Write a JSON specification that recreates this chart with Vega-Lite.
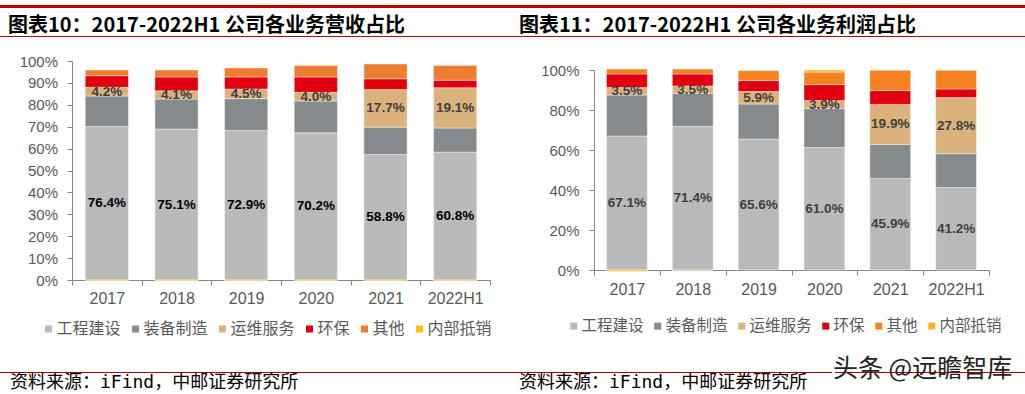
{
 "$schema": "https://vega.github.io/schema/vega-lite/v6.json",
 "padding": 0,
 "background": "white",
 "spacing": 0,
 "config": {"view": {"stroke": null}, "concat": {"spacing": 0}, "font": "Liberation Sans"},
 "datasets": {
  "rev": [
   {"year":"2017","seg":"工程建设","k":1,"v":70.1,"label":"76.4%"},
   {"year":"2017","seg":"装备制造","k":2,"v":13.9,"label":""},
   {"year":"2017","seg":"运维服务","k":3,"v":4.0,"label":"4.2%"},
   {"year":"2017","seg":"环保","k":4,"v":5.3,"label":""},
   {"year":"2017","seg":"其他","k":5,"v":2.6,"label":""},
   {"year":"2017","seg":"内部抵销","k":6,"v":-0.4,"label":""},
   {"year":"2018","seg":"工程建设","k":1,"v":68.9,"label":"75.1%"},
   {"year":"2018","seg":"装备制造","k":2,"v":13.7,"label":""},
   {"year":"2018","seg":"运维服务","k":3,"v":3.8,"label":"4.1%"},
   {"year":"2018","seg":"环保","k":4,"v":6.3,"label":""},
   {"year":"2018","seg":"其他","k":5,"v":3.2,"label":""},
   {"year":"2018","seg":"内部抵销","k":6,"v":-0.4,"label":""},
   {"year":"2019","seg":"工程建设","k":1,"v":68.3,"label":"72.9%"},
   {"year":"2019","seg":"装备制造","k":2,"v":14.5,"label":""},
   {"year":"2019","seg":"运维服务","k":3,"v":4.4,"label":"4.5%"},
   {"year":"2019","seg":"环保","k":4,"v":5.5,"label":""},
   {"year":"2019","seg":"其他","k":5,"v":4.1,"label":""},
   {"year":"2019","seg":"内部抵销","k":6,"v":-0.4,"label":""},
   {"year":"2020","seg":"工程建设","k":1,"v":67.2,"label":"70.2%"},
   {"year":"2020","seg":"装备制造","k":2,"v":14.5,"label":""},
   {"year":"2020","seg":"运维服务","k":3,"v":4.0,"label":"4.0%"},
   {"year":"2020","seg":"环保","k":4,"v":7.0,"label":""},
   {"year":"2020","seg":"其他","k":5,"v":5.2,"label":""},
   {"year":"2020","seg":"内部抵销","k":6,"v":-0.4,"label":""},
   {"year":"2021","seg":"工程建设","k":1,"v":57.3,"label":"58.8%"},
   {"year":"2021","seg":"装备制造","k":2,"v":12.5,"label":""},
   {"year":"2021","seg":"运维服务","k":3,"v":17.2,"label":"17.7%"},
   {"year":"2021","seg":"环保","k":4,"v":4.9,"label":""},
   {"year":"2021","seg":"其他","k":5,"v":6.7,"label":""},
   {"year":"2021","seg":"内部抵销","k":6,"v":-0.4,"label":""},
   {"year":"2022H1","seg":"工程建设","k":1,"v":58.4,"label":"60.8%"},
   {"year":"2022H1","seg":"装备制造","k":2,"v":11.0,"label":""},
   {"year":"2022H1","seg":"运维服务","k":3,"v":18.4,"label":"19.1%"},
   {"year":"2022H1","seg":"环保","k":4,"v":3.4,"label":""},
   {"year":"2022H1","seg":"其他","k":5,"v":6.8,"label":""},
   {"year":"2022H1","seg":"内部抵销","k":6,"v":-0.4,"label":""}
  ],
  "profit": [
   {"year":"2017","seg":"工程建设","k":1,"v":67.0,"label":"67.1%"},
   {"year":"2017","seg":"装备制造","k":2,"v":20.5,"label":""},
   {"year":"2017","seg":"运维服务","k":3,"v":3.7,"label":"3.5%"},
   {"year":"2017","seg":"环保","k":4,"v":6.8,"label":""},
   {"year":"2017","seg":"其他","k":5,"v":2.5,"label":""},
   {"year":"2017","seg":"内部抵销","k":6,"v":-0.7,"label":""},
   {"year":"2018","seg":"工程建设","k":1,"v":71.7,"label":"71.4%"},
   {"year":"2018","seg":"装备制造","k":2,"v":16.6,"label":""},
   {"year":"2018","seg":"运维服务","k":3,"v":3.7,"label":"3.5%"},
   {"year":"2018","seg":"环保","k":4,"v":6.0,"label":""},
   {"year":"2018","seg":"其他","k":5,"v":2.5,"label":""},
   {"year":"2018","seg":"内部抵销","k":6,"v":-0.3,"label":""},
   {"year":"2019","seg":"工程建设","k":1,"v":65.5,"label":"65.6%"},
   {"year":"2019","seg":"装备制造","k":2,"v":17.5,"label":""},
   {"year":"2019","seg":"运维服务","k":3,"v":6.2,"label":"5.9%"},
   {"year":"2019","seg":"环保","k":4,"v":5.5,"label":""},
   {"year":"2019","seg":"其他","k":5,"v":5.0,"label":""},
   {"year":"2019","seg":"内部抵销","k":6,"v":0.3,"label":""},
   {"year":"2020","seg":"工程建设","k":1,"v":61.2,"label":"61.0%"},
   {"year":"2020","seg":"装备制造","k":2,"v":19.5,"label":""},
   {"year":"2020","seg":"运维服务","k":3,"v":4.0,"label":"3.9%"},
   {"year":"2020","seg":"环保","k":4,"v":8.0,"label":""},
   {"year":"2020","seg":"其他","k":5,"v":6.3,"label":""},
   {"year":"2020","seg":"内部抵销","k":6,"v":1.0,"label":""},
   {"year":"2021","seg":"工程建设","k":1,"v":45.8,"label":"45.9%"},
   {"year":"2021","seg":"装备制造","k":2,"v":17.0,"label":""},
   {"year":"2021","seg":"运维服务","k":3,"v":20.0,"label":"19.9%"},
   {"year":"2021","seg":"环保","k":4,"v":6.9,"label":""},
   {"year":"2021","seg":"其他","k":5,"v":10.3,"label":""},
   {"year":"2021","seg":"内部抵销","k":6,"v":0.0,"label":""},
   {"year":"2022H1","seg":"工程建设","k":1,"v":41.2,"label":"41.2%"},
   {"year":"2022H1","seg":"装备制造","k":2,"v":17.0,"label":""},
   {"year":"2022H1","seg":"运维服务","k":3,"v":28.0,"label":"27.8%"},
   {"year":"2022H1","seg":"环保","k":4,"v":4.3,"label":""},
   {"year":"2022H1","seg":"其他","k":5,"v":9.5,"label":""},
   {"year":"2022H1","seg":"内部抵销","k":6,"v":0.0,"label":""}
  ]
 },
 "resolve": {"scale": {"color": "independent"}, "legend": {"color": "independent"}},
 "vconcat": [
  {"width": 1025, "height": 5, "data": {"values": []}, "mark": "point", "encoding": {}},
  {"width": 1025, "height": 3, "view": {"fill": "#c00000"}, "data": {"values": []}, "mark": "point", "encoding": {}},
  {"width": 1025, "height": 8, "data": {"values": []}, "mark": "point", "encoding": {}},
  {"spacing": 0, "hconcat": [
   {"width": 512, "height": 1, "view": {"fill": "#c00000"}, "data": {"values": []}, "mark": "point", "encoding": {},
    "title": {"text": "图表10：2017-2022H1 公司各业务营收占比", "anchor": "start", "dx": 8, "font": "Noto Sans CJK SC", "fontSize": 20, "fontWeight": "bold", "color": "#000000", "offset": 0}},
   {"width": 513, "height": 1, "view": {"fill": "#c00000"}, "data": {"values": []}, "mark": "point", "encoding": {},
    "title": {"text": "图表11：2017-2022H1 公司各业务利润占比", "anchor": "start", "dx": 7, "font": "Noto Sans CJK SC", "fontSize": 20, "fontWeight": "bold", "color": "#000000", "offset": 0}}
  ]},
  {"spacing": 0, "resolve": {"scale": {"color": "independent"}, "legend": {"color": "independent"}}, "hconcat": [
   {"width": 19, "height": 1, "data": {"values": []}, "mark": "point", "encoding": {}},
   {"spacing": 0, "resolve": {"scale": {"color": "independent"}, "legend": {"color": "independent"}}, "vconcat": [
    {"width": 1, "height": 16.5, "data": {"values": []}, "mark": "point", "encoding": {}},
    {"width": 418, "height": 219, "data": {"name": "rev"},
     "encoding": {
       "x": {"field": "year", "type": "nominal", "sort": null, "scale": {"paddingInner": 0, "paddingOuter": 0},
        "axis": {"title": null, "labelAngle": 0, "tickBand": "extent", "domainColor": "#868686", "tickColor": "#868686", "tickSize": 5, "labelFontSize": 16, "labelColor": "#595959", "labelPadding": 5, "labelFont": "Liberation Sans"}}},
     "layer": [
      {"mark": {"type": "bar", "width": {"band": 0.62}, "stroke": "white", "strokeWidth": 0.8, "strokeOpacity": 0.5},
       "encoding": {
        "y": {"field": "v", "type": "quantitative", "stack": "zero", "scale": {"domain": [0, 100], "nice": false},
          "axis": {"title": null, "values": [0,10,20,30,40,50,60,70,80,90,100], "labelOverlap": false, "labelExpr": "datum.value + '%'", "grid": false, "domainColor": "#868686", "tickColor": "#868686", "tickSize": 5, "labelPadding": 9.5, "labelFontSize": 15, "labelColor": "#595959", "labelFont": "Liberation Sans"}},
        "color": {"field": "seg", "type": "nominal", "scale": {"domain": ["工程建设","装备制造","运维服务","环保","其他","内部抵销"], "range": ["#BABABA","#878A8D","#DBB27B","#E1000F","#ED7D31","#FFC000"]},
          "legend": {"title": null, "orient": "none", "legendX": -31.5, "legendY": 260, "direction": "horizontal", "symbolType": "square", "symbolSize": 49, "symbolStrokeWidth": 0, "labelFont": "Noto Sans CJK SC", "labelFontSize": 16, "labelColor": "#595959", "labelOffset": 0, "columnPadding": 6, "padding": 0}},
        "order": {"field": "k", "type": "quantitative"}}},
      {"mark": {"type": "text", "font": "Liberation Sans", "fontWeight": "bold", "fontSize": 13.5, "baseline": "middle"},
       "encoding": {
        "y": {"field": "v", "type": "quantitative", "stack": "zero", "bandPosition": 0.5, "scale": {"domain": [0, 100], "nice": false},
          "axis": {"title": null, "values": [0,10,20,30,40,50,60,70,80,90,100], "labelOverlap": false, "labelExpr": "datum.value + '%'", "grid": false, "domainColor": "#868686", "tickColor": "#868686", "tickSize": 5, "labelPadding": 9.5, "labelFontSize": 15, "labelColor": "#595959", "labelFont": "Liberation Sans"}},
        "detail": {"field": "seg"},
        "order": {"field": "k", "type": "quantitative"},
        "text": {"field": "label"},
        "color": {"condition": {"test": "datum.seg === '工程建设'", "value": "#000000"}, "value": "#404040"}}}
     ]}
   ]},
   {"width": 47, "height": 1, "data": {"values": []}, "mark": "point", "encoding": {}},
   {"spacing": 0, "resolve": {"scale": {"color": "independent"}, "legend": {"color": "independent"}}, "vconcat": [
    {"width": 1, "height": 25.5, "data": {"values": []}, "mark": "point", "encoding": {}},
    {"width": 395, "height": 200, "data": {"name": "profit"},
     "encoding": {
       "x": {"field": "year", "type": "nominal", "sort": null, "scale": {"paddingInner": 0, "paddingOuter": 0},
        "axis": {"title": null, "labelAngle": 0, "tickBand": "extent", "domainColor": "#868686", "tickColor": "#868686", "tickSize": 5, "labelFontSize": 16, "labelColor": "#595959", "labelPadding": 6, "labelFont": "Liberation Sans"}}},
     "layer": [
      {"mark": {"type": "bar", "width": {"band": 0.62}, "stroke": "white", "strokeWidth": 0.8, "strokeOpacity": 0.5},
       "encoding": {
        "y": {"field": "v", "type": "quantitative", "stack": "zero", "scale": {"domain": [0, 100], "nice": false},
          "axis": {"title": null, "values": [0,20,40,60,80,100], "labelOverlap": false, "labelExpr": "datum.value + '%'", "grid": false, "domainColor": "#868686", "tickColor": "#868686", "tickSize": 5, "labelPadding": 10, "labelFontSize": 15, "labelColor": "#595959", "labelFont": "Liberation Sans"}},
        "color": {"field": "seg", "type": "nominal", "scale": {"domain": ["工程建设","装备制造","运维服务","环保","其他","内部抵销"], "range": ["#BABABA","#878A8D","#DBB27B","#E1000F","#F58220","#FBB823"]},
          "legend": {"title": null, "orient": "none", "legendX": -28, "legendY": 248, "direction": "horizontal", "symbolType": "square", "symbolSize": 49, "symbolStrokeWidth": 0, "labelFont": "Noto Sans CJK SC", "labelFontSize": 15.5, "labelColor": "#595959", "labelOffset": 0, "columnPadding": 6, "padding": 0}},
        "order": {"field": "k", "type": "quantitative"}}},
      {"mark": {"type": "text", "font": "Liberation Sans", "fontWeight": "bold", "fontSize": 13.5, "baseline": "middle", "color": "#404040"},
       "encoding": {
        "y": {"field": "v", "type": "quantitative", "stack": "zero", "bandPosition": 0.5, "scale": {"domain": [0, 100], "nice": false},
          "axis": {"title": null, "values": [0,20,40,60,80,100], "labelOverlap": false, "labelExpr": "datum.value + '%'", "grid": false, "domainColor": "#868686", "tickColor": "#868686", "tickSize": 5, "labelPadding": 10, "labelFontSize": 15, "labelColor": "#595959", "labelFont": "Liberation Sans"}},
        "detail": {"field": "seg"},
        "order": {"field": "k", "type": "quantitative"},
        "text": {"field": "label"}}}
     ]}
   ]}
  ]},
  {"width": 1025, "height": 19.5, "data": {"values": []}, "mark": "point", "encoding": {}},
  {"spacing": 0, "hconcat": [
   {"width": 512, "height": 1, "view": {"fill": "#a80000"}, "data": {"values": []}, "mark": "point", "encoding": {},
    "title": {"text": "资料来源：iFind，中邮证券研究所", "orient": "bottom", "anchor": "start", "dx": 10, "font": "DejaVu Sans Mono, Noto Sans CJK SC", "fontSize": 18, "fontWeight": "normal", "color": "#000000", "offset": 1}},
   {"width": 320, "height": 1, "view": {"fill": "#a80000"}, "data": {"values": []}, "mark": "point", "encoding": {},
    "title": {"text": "资料来源：iFind，中邮证券研究所", "orient": "bottom", "anchor": "start", "dx": 7, "font": "DejaVu Sans Mono, Noto Sans CJK SC", "fontSize": 18, "fontWeight": "normal", "color": "#000000", "offset": 1}},
   {"width": 193, "height": 1, "view": {"fill": "#a80000"}, "data": {"values": []}, "mark": "point", "encoding": {},
    "title": {"text": "头条 @远瞻智库", "orient": "bottom", "anchor": "middle", "dx": -9, "font": "Noto Sans CJK SC", "fontSize": 25, "fontWeight": "normal", "color": "#222222", "offset": -16}}
  ]}
 ]
}
